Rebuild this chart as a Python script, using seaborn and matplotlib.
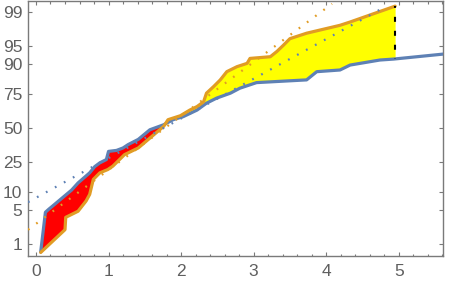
import numpy as np
import matplotlib
matplotlib.use("Agg")
import matplotlib.pyplot as plt
import seaborn as sns
from statistics import NormalDist

# Blue sample (x value, cumulative percent)
blue_x = [0.065, 0.13, 0.175, 0.22, 0.49, 0.58, 0.74, 0.81, 0.88, 0.97, 1.00, 1.11,
          1.20, 1.27, 1.41, 1.57, 1.76, 1.89, 2.03, 2.22, 2.35, 2.49, 2.68, 2.81,
          3.04, 3.73, 3.87, 4.19, 4.33, 4.74, 4.93, 5.70]
blue_pct = [0.66, 4.6, 5.2, 5.8, 10.7, 13.6, 18.5, 22.0, 24.3, 26.4, 32.0, 32.7,
            34.5, 37.0, 41.0, 48.6, 52.6, 56.6, 59.0, 64.0, 69.0, 72.5, 75.7, 78.7,
            81.8, 83.2, 87.0, 87.7, 89.6, 91.3, 91.6, 93.2]

# Orange sample
orange_x = [0.065, 0.40, 0.41, 0.58, 0.69, 0.74, 0.79, 0.88, 0.99, 1.06, 1.22, 1.41,
            1.57, 1.76, 1.82, 1.99, 2.12, 2.22, 2.31, 2.35, 2.45, 2.54, 2.63, 2.77,
            2.91, 2.95, 3.23, 3.32, 3.41, 3.50, 3.73, 4.19, 4.33, 4.95]
orange_pct = [0.64, 2.1, 3.7, 4.8, 7.2, 9.2, 15.2, 18.5, 20.3, 22.3, 29.7, 34.5,
              42.0, 51.3, 56.6, 59.7, 64.0, 66.6, 70.0, 75.7, 79.7, 83.2, 87.0, 89.0,
              90.2, 91.8, 92.3, 93.7, 95.1, 96.3, 97.1, 98.0, 98.3, 99.26]

# normal reference lines (end points)
blue_ref_x = [-0.11, 4.83]
blue_ref_pct = [6.9, 99.26]
orange_ref_x = [-0.11, 4.08]
orange_ref_pct = [2.09, 99.35]

prob_ticks = [1, 5, 10, 25, 50, 75, 90, 95, 99]
x_ticks = [0, 1, 2, 3, 4, 5]

BLUE = "#5E81B5"
ORANGE = "#E19C24"

nd = NormalDist()
_ppf = np.vectorize(nd.inv_cdf, otypes=[float])
_cdf = np.vectorize(nd.cdf, otypes=[float])


def probit(p):
    p = np.clip(np.asarray(p, dtype=float) / 100.0, 1e-12, 1 - 1e-12)
    return _ppf(p)


def unprobit(z):
    return _cdf(np.asarray(z, dtype=float)) * 100.0


sns.set_style("ticks")
plt.rcParams["font.family"] = ["Liberation Sans", "DejaVu Sans"]

fig = plt.figure(figsize=(4.52, 2.89), dpi=100)
ax = fig.add_axes([28 / 452, 1 - 256 / 289, 415 / 452, 255 / 289])

# shaded area between the two curves (up to end of orange sample)
grid = np.union1d(blue_x, orange_x)
grid = grid[(grid >= orange_x[0]) & (grid <= orange_x[-1])]
b = unprobit(np.interp(grid, blue_x, probit(blue_pct)))
o = unprobit(np.interp(grid, orange_x, probit(orange_pct)))
ax.fill_between(grid, o, b, where=b >= o, interpolate=True, color="#FF0000", lw=0, zorder=1)
ax.fill_between(grid, b, o, where=o >= b, interpolate=True, color="#FFFF00", lw=0, zorder=1)

sns.lineplot(x=blue_x, y=blue_pct, ax=ax, color=BLUE, lw=2.3, sort=False,
             estimator=None, zorder=3)
sns.lineplot(x=orange_x, y=orange_pct, ax=ax, color=ORANGE, lw=2.3, sort=False,
             estimator=None, zorder=3)

ax.plot(blue_ref_x, blue_ref_pct, color=BLUE, lw=1.6, ls=(0, (0.8, 3.8)), zorder=4)
ax.plot(orange_ref_x, orange_ref_pct, color=ORANGE, lw=1.6, ls=(0, (0.8, 3.8)), zorder=4)

# gap marker at end of orange sample
gap_low = unprobit(np.interp(orange_x[-1], blue_x, probit(blue_pct)))
ax.plot([orange_x[-1], orange_x[-1]], [orange_pct[-1], gap_low], color="black",
        lw=1.5, ls=(1.5, (2.4, 4.3)), zorder=5)

ax.set_yscale("function", functions=(probit, unprobit))
ax.set_ylim(unprobit(-2.56), unprobit(2.54))
ax.set_xlim(-0.11, 5.61)

ax.set_yticks(prob_ticks)
ax.set_yticklabels([str(t) for t in prob_ticks])
ax.yaxis.set_minor_locator(matplotlib.ticker.NullLocator())
ax.set_xticks(x_ticks)
ax.xaxis.set_minor_locator(matplotlib.ticker.MultipleLocator(0.2))

for s in ax.spines.values():
    s.set_color("#7a7a7a")
    s.set_linewidth(1.0)
ax.tick_params(which="both", direction="in", top=True, right=True, color="#7a7a7a",
               width=0.8, labelcolor="#5f5f5f", labelsize=12.5)
ax.tick_params(which="major", length=3.0)
ax.tick_params(which="minor", length=1.8)
ax.tick_params(axis="x", pad=6)
ax.tick_params(axis="y", pad=4)
ax.set_xlabel("")
ax.set_ylabel("")

fig.savefig("out.png", dpi=100)
